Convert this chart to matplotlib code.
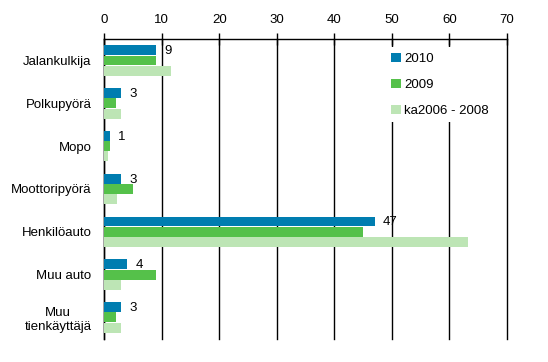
import matplotlib.pyplot as plt
import numpy as np

## DATA
categories = ['Jalankulkija', 'Polkupyörä', 'Mopo', 'Moottoripyörä',
              'Henkilöauto', 'Muu auto', 'Muu\ntienkäyttäjä']
v2010 = [9, 3, 1, 3, 47, 4, 3]
v2009 = [9, 2.1, 1.1, 5.1, 45, 9, 2.1]
vka = [11.7, 3, 0.7, 2.3, 63.3, 3, 3]
series_names = ['2010', '2009', 'ka2006 - 2008']
colors = ['#007db0', '#55c14a', '#bde5b5']
xticks = [0, 10, 20, 30, 40, 50, 60, 70]

plt.rcParams['font.family'] = ['Liberation Sans', 'DejaVu Sans']
plt.rcParams['font.size'] = 9.5

fig = plt.figure(figsize=(5.48, 3.62), dpi=100)
ax = fig.add_axes([0.19, 0.064, 0.735, 0.828])

y = np.arange(len(categories))
h = 0.24
for i, (vals, name) in enumerate(zip([v2010, v2009, vka], series_names)):
    ax.barh(y - h + i * h, vals, height=h * 0.97, color=colors[i], label=name,
            zorder=3)

## value labels for 2010
for yi, v in zip(y, v2010):
    ax.text(v + 1.4, yi - h + 0.02, str(v), va='center', ha='left',
            fontsize=9.5, zorder=4)

ax.set_xlim(0, 70)
ax.set_ylim(len(categories) - 0.5, -0.5)
ax.set_xticks(xticks)
ax.xaxis.tick_top()
ax.tick_params(axis='x', direction='inout', length=9, width=1, pad=5)
ax.set_yticks(y)
ax.set_yticklabels(categories)
for lbl in ax.get_yticklabels():
    lbl.set_multialignment('center')
ax.tick_params(axis='y', length=0, pad=9)

ax.grid(axis='x', color='black', linewidth=1)
for gl in ax.get_xgridlines():
    gl.set_clip_on(False)
ax.set_axisbelow(True)
for s in ['bottom', 'right']:
    ax.spines[s].set_visible(False)
for s in ['top', 'left']:
    ax.spines[s].set_linewidth(1)

leg = ax.legend(loc='upper left', bbox_to_anchor=(0.70, 0.972),
                frameon=True, fancybox=False, edgecolor='none',
                facecolor='white', framealpha=1,
                handlelength=0.7, handleheight=0.7, handletextpad=0.25,
                labelspacing=1.05, borderpad=0.4, borderaxespad=0)
leg.set_zorder(5)

plt.savefig('out.png', dpi=100)
